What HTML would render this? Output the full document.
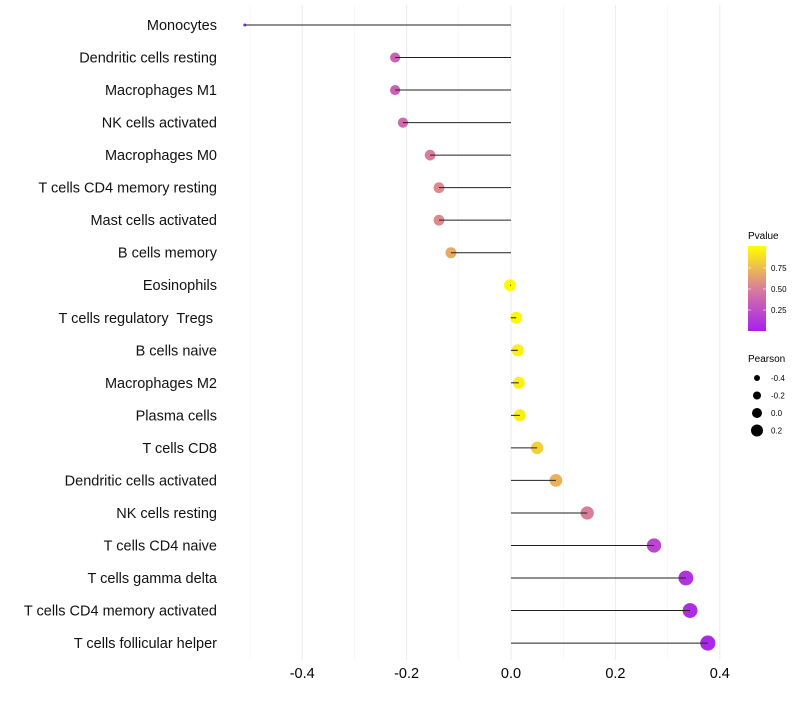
<!DOCTYPE html>
<html><head><meta charset="utf-8"><style>
body{margin:0;background:#fff;font-family:"Liberation Sans",sans-serif}
text{white-space:pre}
</style></head><body>
<svg id="c" width="800" height="700" xmlns="http://www.w3.org/2000/svg" font-family="Liberation Sans, sans-serif"></svg>
<script>
const categories=["Monocytes","Dendritic cells resting","Macrophages M1","NK cells activated","Macrophages M0","T cells CD4 memory resting","Mast cells activated","B cells memory","Eosinophils","T cells regulatory  Tregs ","B cells naive","Macrophages M2","Plasma cells","T cells CD8","Dendritic cells activated","NK cells resting","T cells CD4 naive","T cells gamma delta","T cells CD4 memory activated","T cells follicular helper"];
const pearson=[-0.51,-0.222,-0.222,-0.207,-0.155,-0.138,-0.138,-0.115,-0.002,0.01,0.013,0.015,0.017,0.05,0.086,0.146,0.274,0.335,0.343,0.377];
const pvalues=[0.0,0.35,0.35,0.4,0.5,0.55,0.55,0.68,0.99,0.96,0.95,0.95,0.94,0.82,0.7,0.5,0.2,0.1,0.08,0.05];
const xTicks=[-0.4,-0.2,0.0,0.2,0.4];
const xMinor=[-0.5,-0.3,-0.1,0.1,0.3];
const legendP=[0.75,0.5,0.25];
const legendR=[-0.4,-0.2,0.0,0.2];
const NS="http://www.w3.org/2000/svg",svg=document.getElementById('c');
function mk(t,a,txt){const e=document.createElementNS(NS,t);for(const k in a)e.setAttribute(k,a[k]);if(txt!==undefined)e.textContent=txt;svg.appendChild(e);return e;}
const x=v=>511+v*522, y=i=>25+i*32.53, r=v=>v<-0.45?1.5:6+4.2*v;
function col(p){const s=[[0,[165,32,240]],[0.5,[218,125,155]],[1,[255,255,0]]];let a,b;if(p<=0.5){a=s[0];b=s[1];}else{a=s[1];b=s[2];}const t=(p-a[0])/(b[0]-a[0]);const c=a[1].map((v,k)=>Math.round(v+(b[1][k]-v)*t));return `rgb(${c})`;}
xMinor.forEach(v=>{const l=mk('line',{x1:x(v),x2:x(v),y1:5,y2:660,stroke:'#f2f2f2','stroke-width':0.6});});
xTicks.forEach(v=>{const l=mk('line',{x1:x(v),x2:x(v),y1:5,y2:660,stroke:'#ebebeb','stroke-width':1});
const t=mk('text',{x:x(v),y:678,'text-anchor':'middle','font-size':14.5,fill:'#000'},v.toFixed(1));});
categories.forEach((c,i)=>{const t=mk('text',{x:217,y:y(i)+5,'text-anchor':'end','font-size':14.5,fill:'#111'},c);
const p=mk('circle',{cx:x(pearson[i]),cy:y(i),r:r(pearson[i]),fill:col(pvalues[i])});
const l=mk('line',{x1:x(0),x2:x(pearson[i]),y1:y(i),y2:y(i),stroke:'#222','stroke-width':1});});
let t=mk('text',{x:748,y:239,'font-size':10},'Pvalue');
const d=mk('defs',{});d.innerHTML='<linearGradient id="g" x1="0" y1="1" x2="0" y2="0"><stop offset="0" stop-color="rgb(165,32,240)"/><stop offset="0.5" stop-color="rgb(218,125,155)"/><stop offset="1" stop-color="rgb(255,255,0)"/></linearGradient>';
let b=mk('rect',{x:748,y:246,width:18,height:85,fill:'url(#g)'});
legendP.forEach(p=>{const yy=331-p*84;mk('line',{x1:748,x2:751,y1:yy,y2:yy,stroke:'#fff','stroke-opacity':0.6});mk('line',{x1:763,x2:766,y1:yy,y2:yy,stroke:'#fff','stroke-opacity':0.6});
const tt=mk('text',{x:771,y:yy+3,'font-size':8},p.toFixed(2));});
t=mk('text',{x:748,y:362,'font-size':10},'Pearson');
legendR.forEach((v,i)=>{const yy=378+i*17.5;const c=mk('circle',{cx:757,cy:yy,r:3+i,fill:'#000'});
const tt=mk('text',{x:771,y:yy+3,'font-size':8},v.toFixed(1));});
</script>
</body></html>
